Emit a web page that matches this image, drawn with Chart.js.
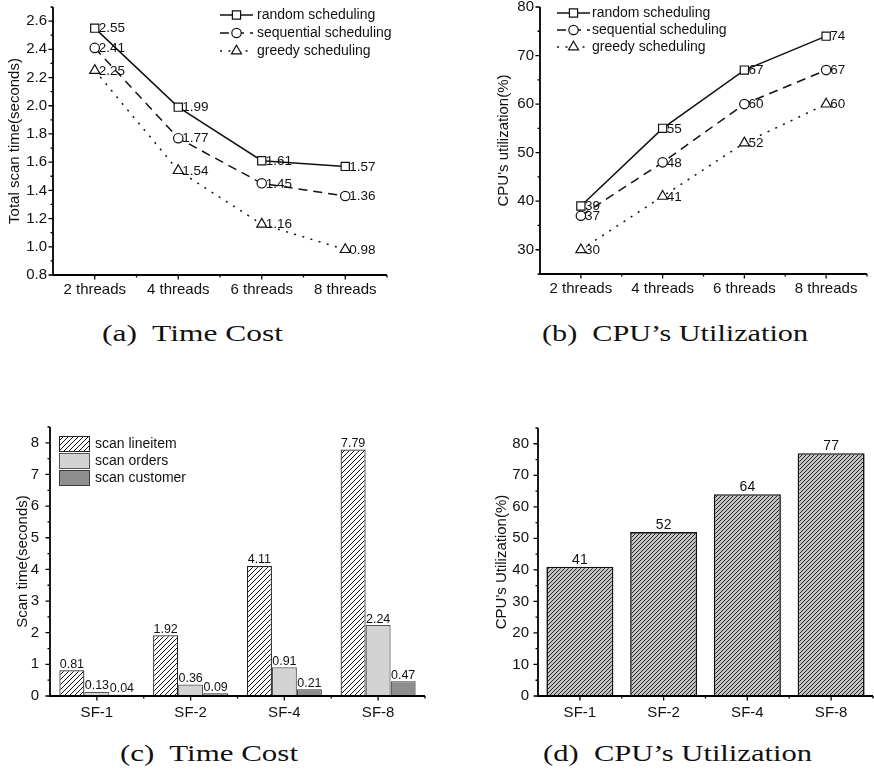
<!DOCTYPE html>
<html>
<head>
<meta charset="utf-8">
<title>Scheduling and scan experiments</title>
<script src="https://cdn.jsdelivr.net/npm/chart.js@4.4.1/dist/chart.umd.min.js"></script>
<style>
  html, body { margin: 0; padding: 0; background: #fff; }
  #page { position: relative; width: 874px; height: 771px; overflow: hidden; background: #fff; }
  #page canvas { position: absolute; }
  .cap {
    position: absolute;
    font-family: "Liberation Serif", "Times New Roman", serif;
    font-size: 23px;
    line-height: 23px;
    color: #111;
    white-space: pre;
    transform-origin: 0 0;
  }
</style>
</head>
<body>
<div id="page">
  <canvas id="timeCost" width="437" height="305" style="left:0;top:0"></canvas>
  <canvas id="cpuThreads" width="437" height="305" style="left:437px;top:0"></canvas>
  <canvas id="scanTime" width="437" height="320" style="left:0;top:400px"></canvas>
  <canvas id="cpuSF" width="437" height="320" style="left:437px;top:400px"></canvas>

  <div class="cap" data-w="181" style="left:102px;top:322px">(a)  Time Cost</div>
  <div class="cap" data-w="266" style="left:542px;top:322px">(b)  CPU’s Utilization</div>
  <div class="cap" data-w="178" style="left:120px;top:742px">(c)  Time Cost</div>
  <div class="cap" data-w="269" style="left:543px;top:742px">(d)  CPU’s Utilization</div>
</div>

<script>
// ---- data ----
const threadLabels = ['2 threads', '4 threads', '6 threads', '8 threads'];
const schedulingNames = ['random scheduling', 'sequential scheduling', 'greedy scheduling'];
const timeRandom = [2.55, 1.99, 1.61, 1.57];
const timeSequential = [2.41, 1.77, 1.45, 1.36];
const timeGreedy = [2.25, 1.54, 1.16, 0.98];
const cpuRandom = [39, 55, 67, 74];
const cpuSequential = [37, 48, 60, 67];
const cpuGreedy = [30, 41, 52, 60];

const sfLabels = ['SF-1', 'SF-2', 'SF-4', 'SF-8'];
const scanNames = ['scan lineitem', 'scan orders', 'scan customer'];
const scanLineitem = [0.81, 1.92, 4.11, 7.79];
const scanOrders = [0.13, 0.36, 0.91, 2.24];
const scanCustomer = [0.04, 0.09, 0.21, 0.47];
const cpuBySF = [41, 52, 64, 77];

// ---- shared styling ----
const FONT = '"Liberation Sans", Arial, Helvetica, sans-serif';
const INK = '#111';

function hatch(bg, fg, size, lw) {
  const c = document.createElement('canvas');
  c.width = c.height = size;
  const g = c.getContext('2d');
  g.fillStyle = bg;
  g.fillRect(0, 0, size, size);
  g.strokeStyle = fg;
  g.lineWidth = lw;
  g.beginPath();
  g.moveTo(0, size); g.lineTo(size, 0);
  g.moveTo(-1, 1); g.lineTo(1, -1);
  g.moveTo(size - 1, size + 1); g.lineTo(size + 1, size - 1);
  g.stroke();
  return g.createPattern(c, 'repeat');
}

// fixes the axis box size so the plot area lands where wanted
function fixedBox(size) {
  return function (scale) {
    if (scale.isHorizontal()) scale.height = size; else scale.width = size;
    scale.paddingLeft = scale.paddingRight = scale.paddingTop = scale.paddingBottom = 0;
  };
}

// axis lines with outward major and minor ticks
const frameAxes = {
  id: 'frameAxes',
  afterDatasetsDraw(chart) {
    const { ctx, chartArea: a } = chart;
    const xs = chart.scales.x, ys = chart.scales.y;
    ctx.save();
    ctx.strokeStyle = '#000';
    ctx.lineWidth = 1.3;
    ctx.beginPath();
    const vals = ys.ticks.map(t => t.value);
    const step = vals[1] - vals[0];
    vals.forEach(v => {
      const p = ys.getPixelForValue(v);
      ctx.moveTo(a.left, p); ctx.lineTo(a.left - 4.5, p);
    });
    const minors = vals.map(v => v + step / 2).filter(v => v <= ys.max + 1e-9);
    if (vals[0] - step / 2 >= ys.min - 1e-9) minors.push(vals[0] - step / 2);
    minors.forEach(v => {
      const p = ys.getPixelForValue(v);
      ctx.moveTo(a.left, p); ctx.lineTo(a.left - 2.5, p);
    });
    const n = chart.data.labels.length;
    for (let i = 0; i < n; i++) {
      const p = xs.getPixelForValue(i);
      ctx.moveTo(p, a.bottom); ctx.lineTo(p, a.bottom + 4.5);
      const q = i < n - 1 ? (p + xs.getPixelForValue(i + 1)) / 2 : a.right;
      ctx.moveTo(q, a.bottom); ctx.lineTo(q, a.bottom + 2.5);
    }
    ctx.stroke();
    ctx.lineWidth = 1.8;
    ctx.beginPath();
    ctx.moveTo(a.left, a.top);
    ctx.lineTo(a.left, a.bottom);
    ctx.lineTo(a.right, a.bottom);
    ctx.stroke();
    ctx.restore();
  }
};

// numbers printed next to points / above bars
const valueLabels = {
  id: 'valueLabels',
  afterDatasetsDraw(chart, args, opts) {
    const ctx = chart.ctx;
    ctx.save();
    ctx.font = opts.size + 'px ' + FONT;
    ctx.fillStyle = INK;
    chart.data.datasets.forEach((ds, i) => {
      chart.getDatasetMeta(i).data.forEach((el, j) => {
        const txt = Number(ds.data[j]).toFixed(opts.decimals);
        if (opts.side === 'right') {
          ctx.textAlign = 'left';
          ctx.textBaseline = 'middle';
          ctx.fillText(txt, el.x + opts.dx, el.y + 0.5);
        } else {
          ctx.textAlign = 'center';
          ctx.textBaseline = 'alphabetic';
          ctx.fillText(txt, el.x, el.y - opts.gap);
        }
      });
    });
    ctx.restore();
  }
};

function marker(ctx, style, r, x, y) {
  if (Chart.helpers && Chart.helpers.drawPoint) {
    Chart.helpers.drawPoint(ctx, { pointStyle: style, radius: r, rotation: 0, borderWidth: ctx.lineWidth }, x, y);
    return;
  }
  ctx.beginPath();
  if (style === 'rect') { const s = Math.SQRT1_2 * r; ctx.rect(x - s, y - s, 2 * s, 2 * s); }
  else if (style === 'triangle') {
    ctx.moveTo(x, y - r);
    ctx.lineTo(x + Math.sin(2 * Math.PI / 3) * r, y + r / 2);
    ctx.lineTo(x - Math.sin(2 * Math.PI / 3) * r, y + r / 2);
    ctx.closePath();
  } else ctx.arc(x, y, r, 0, Math.PI * 2);
  ctx.fill(); ctx.stroke();
}

// key with line sample + marker
const lineKey = {
  id: 'lineKey',
  afterDatasetsDraw(chart, args, o) {
    const ctx = chart.ctx;
    chart.data.datasets.forEach((ds, i) => {
      const y = o.y + i * o.gap;
      ctx.save();
      ctx.strokeStyle = ds.borderColor;
      ctx.lineWidth = ds.borderWidth;
      ctx.setLineDash(ds.borderDash || []);
      ctx.beginPath();
      ctx.moveTo(o.x, y); ctx.lineTo(o.x + o.len, y);
      ctx.stroke();
      ctx.setLineDash([]);
      ctx.fillStyle = ds.pointBackgroundColor;
      ctx.strokeStyle = ds.pointBorderColor;
      ctx.lineWidth = ds.pointBorderWidth;
      marker(ctx, ds.pointStyle, ds.pointRadius, o.x + o.len / 2, y);
      ctx.font = o.size + 'px ' + FONT;
      ctx.fillStyle = INK;
      ctx.textAlign = 'left';
      ctx.textBaseline = 'middle';
      ctx.fillText(ds.label, o.textX, y + 0.5);
      ctx.restore();
    });
  }
};

// key with filled swatches
const boxKey = {
  id: 'boxKey',
  afterDatasetsDraw(chart, args, o) {
    const ctx = chart.ctx;
    chart.data.datasets.forEach((ds, i) => {
      const y = o.y + i * o.gap;
      ctx.save();
      ctx.fillStyle = ds.backgroundColor;
      ctx.fillRect(o.x, y, o.w, o.h);
      ctx.strokeStyle = ds.borderColor;
      ctx.lineWidth = 1;
      ctx.strokeRect(o.x + 0.5, y + 0.5, o.w - 1, o.h - 1);
      ctx.font = o.size + 'px ' + FONT;
      ctx.fillStyle = INK;
      ctx.textAlign = 'left';
      ctx.textBaseline = 'middle';
      ctx.fillText(ds.label, o.textX, y + o.h / 2 + 0.5);
      ctx.restore();
    });
  }
};

function lineSeries(label, data, style, dash, radius) {
  return {
    label, data,
    borderColor: '#111', borderWidth: 1.5, borderDash: dash,
    pointStyle: style, pointRadius: radius, pointHoverRadius: radius,
    pointBackgroundColor: '#fff', pointBorderColor: '#111', pointBorderWidth: 1.2,
    tension: 0, fill: false, clip: false
  };
}

function tickFont() { return { family: FONT, size: 15 }; }

function baseOptions(o) {
  return {
    responsive: false,
    animation: false,
    devicePixelRatio: 1,
    layout: { padding: o.padding },
    plugins: {
      legend: { display: false },
      tooltip: { enabled: false },
      valueLabels: o.labels,
      lineKey: o.key,
      boxKey: o.key
    },
    scales: {
      x: {
        type: 'category',
        offset: true,
        grid: { display: false, drawTicks: false },
        border: { display: false },
        ticks: { font: tickFont(), color: INK, padding: o.xPad, maxRotation: 0, autoSkip: false },
        afterFit: fixedBox(o.xBox)
      },
      y: {
        min: o.yMin, max: o.yMax,
        grid: { display: false, drawTicks: false },
        border: { display: false },
        ticks: {
          stepSize: o.yStep, includeBounds: false,
          font: tickFont(), color: INK, padding: o.yPad,
          callback: v => Number(v).toFixed(o.yDec)
        },
        title: {
          display: true, text: o.yTitle, color: INK,
          font: { family: FONT, size: 15 },
          padding: { top: o.titlePad, bottom: 0 }
        },
        afterFit: fixedBox(o.yBox)
      }
    }
  };
}

// (a) total scan time
new Chart(document.getElementById('timeCost'), {
  type: 'line',
  data: {
    labels: threadLabels,
    datasets: [
      lineSeries(schedulingNames[0], timeRandom, 'rect', [], 5.8),
      lineSeries(schedulingNames[1], timeSequential, 'circle', [9, 6], 4.7),
      lineSeries(schedulingNames[2], timeGreedy, 'triangle', [2, 6.5], 5.8)
    ]
  },
  options: baseOptions({
    padding: { left: 0, top: 6, right: 50, bottom: 0 },
    xBox: 30, yBox: 53, xPad: 6, yPad: 6,
    yMin: 0.8, yMax: 2.7, yStep: 0.2, yDec: 1,
    yTitle: 'Total scan time(seconds)', titlePad: 6,
    labels: { side: 'right', dx: 4, decimals: 2, size: 13.5 },
    key: { x: 220, y: 15, gap: 18, len: 33, textX: 257, size: 14 }
  }),
  plugins: [frameAxes, valueLabels, lineKey]
});

// (b) CPU utilisation by thread count
new Chart(document.getElementById('cpuThreads'), {
  type: 'line',
  data: {
    labels: threadLabels,
    datasets: [
      lineSeries(schedulingNames[0], cpuRandom, 'rect', [], 5.8),
      lineSeries(schedulingNames[1], cpuSequential, 'circle', [9, 6], 4.7),
      lineSeries(schedulingNames[2], cpuGreedy, 'triangle', [2, 6.5], 5.8)
    ]
  },
  options: baseOptions({
    padding: { left: 0, top: 5, right: 0, bottom: 0 },
    xBox: 31, yBox: 103, xPad: 6, yPad: 6,
    yMin: 25, yMax: 80, yStep: 10, yDec: 0,
    yTitle: 'CPU\'s utilization(%)', titlePad: 58,
    labels: { side: 'right', dx: 4, decimals: 0, size: 13.5 },
    key: { x: 120, y: 13, gap: 17, len: 33, textX: 155, size: 14 }
  }),
  plugins: [frameAxes, valueLabels, lineKey]
});

// (c) scan time per table
const lineitemFill = hatch('#ffffff', '#111111', 5, 1);
new Chart(document.getElementById('scanTime'), {
  type: 'bar',
  data: {
    labels: sfLabels,
    datasets: [
      { label: scanNames[0], data: scanLineitem, backgroundColor: lineitemFill, borderColor: '#222', borderWidth: 1.2, borderSkipped: 'start', categoryPercentage: 0.8, barPercentage: 1.0 },
      { label: scanNames[1], data: scanOrders, backgroundColor: '#d3d3d3', borderColor: '#555', borderWidth: 1.2, borderSkipped: 'start', categoryPercentage: 0.8, barPercentage: 1.0 },
      { label: scanNames[2], data: scanCustomer, backgroundColor: '#8e8e8e', borderColor: '#3a3a3a', borderWidth: 1.2, borderSkipped: 'start', categoryPercentage: 0.8, barPercentage: 1.0 }
    ]
  },
  options: baseOptions({
    padding: { left: 0, top: 27, right: 12, bottom: 0 },
    xBox: 24, yBox: 50, xPad: 8, yPad: 11,
    yMin: 0, yMax: 8.5, yStep: 1, yDec: 0,
    yTitle: 'Scan time(seconds)', titlePad: 14,
    labels: { side: 'top', gap: 2.5, decimals: 2, size: 12.5 },
    key: { x: 59, y: 36, gap: 17, w: 31, h: 16, textX: 95, size: 14 }
  }),
  plugins: [frameAxes, valueLabels, boxKey]
});

// (d) CPU utilisation by scale factor
const cpuFill = hatch('#c4c4c4', '#222222', 4, 1);
new Chart(document.getElementById('cpuSF'), {
  type: 'bar',
  data: {
    labels: sfLabels,
    datasets: [
      { label: 'CPU\'s Utilization', data: cpuBySF, backgroundColor: cpuFill, borderColor: '#111', borderWidth: 1.6, borderSkipped: 'start', categoryPercentage: 0.8, barPercentage: 1.0 }
    ]
  },
  options: baseOptions({
    padding: { left: 0, top: 28, right: 1, bottom: 0 },
    xBox: 24, yBox: 101, xPad: 8, yPad: 9,
    yMin: 0, yMax: 85, yStep: 10, yDec: 0,
    yTitle: 'CPU\'s Utilization(%)', titlePad: 56,
    labels: { side: 'top', gap: 3, decimals: 0, size: 14 },
    key: null
  }),
  plugins: [frameAxes, valueLabels]
});

// sub-figure captions, stretched to their set widths
document.querySelectorAll('.cap').forEach(el => {
  const w = el.getBoundingClientRect().width;
  const target = Number(el.dataset.w);
  if (w > 0) el.style.transform = 'scaleX(' + (target / w).toFixed(4) + ')';
});
</script>
</body>
</html>
